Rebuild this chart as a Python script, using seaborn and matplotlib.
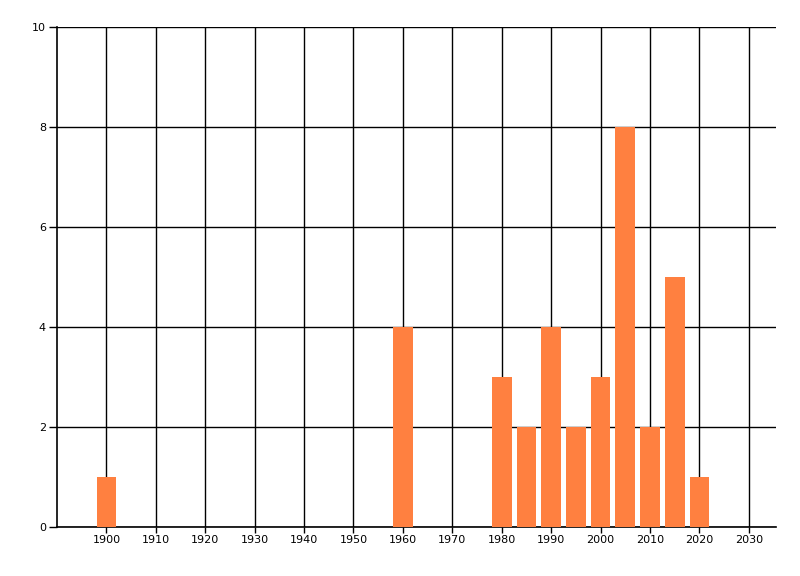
import matplotlib
matplotlib.use("Agg")
import matplotlib.pyplot as plt
import seaborn as sns
import pandas as pd

years = [1900, 1960, 1980, 1985, 1990, 1995, 2000, 2005, 2010, 2015, 2020]
counts = [1, 4, 3, 2, 4, 2, 3, 8, 2, 5, 1]
x_ticks = list(range(1900, 2031, 10))
y_ticks = [0, 2, 4, 6, 8, 10]

sns.set_style("white")
plt.rcParams['font.family'] = ['DejaVu Sans']

df = pd.DataFrame({"year": years, "count": counts})

fig = plt.figure(figsize=(8, 5.76), dpi=100)
ax = fig.add_axes([57/800, 1 - 527/576, (776-57)/800, (527-27)/576])

sns.barplot(data=df, x="year", y="count", native_scale=True, width=0.8,
            color="#FF8040", saturation=1, ax=ax, zorder=3,
            linewidth=0, edgecolor="none")

ax.set_xlim(1890, 2035.5)
ax.set_ylim(0, 10)
ax.set_xticks(x_ticks)
ax.set_xticklabels([str(t) for t in x_ticks], fontsize=8, color="black")
ax.set_yticks(y_ticks)
ax.set_yticklabels([str(t) for t in y_ticks], fontsize=8, color="black")
ax.set_xlabel("")
ax.set_ylabel("")

ax.grid(True, color="black", linewidth=1)
ax.set_axisbelow(True)
for s in ["top", "right"]:
    ax.spines[s].set_visible(False)
for s in ["left", "bottom"]:
    ax.spines[s].set_color("black")
    ax.spines[s].set_linewidth(1.2)

ax.tick_params(axis="y", length=6, width=1, color="black", pad=2, left=True)
ax.tick_params(axis="x", length=4, width=1, color="black", pad=2, bottom=True)

fig.savefig("out.png", dpi=100)
